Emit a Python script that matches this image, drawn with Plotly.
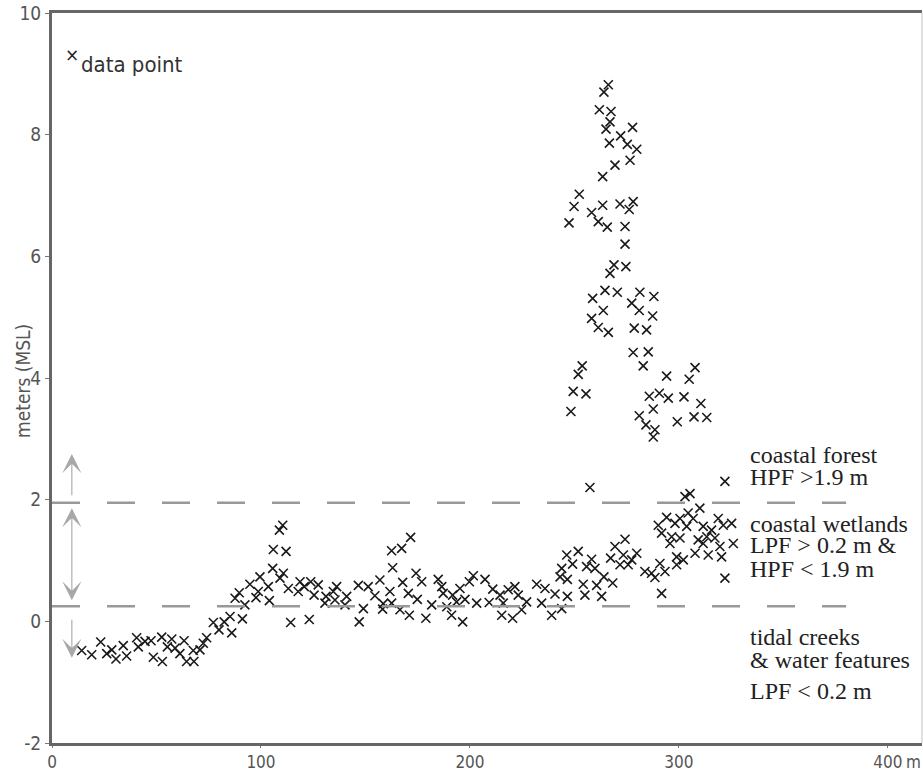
import plotly.graph_objects as go

# distance along transect (m) and elevation (m, MSL)
x_m = [14.2, 19.0, 23.3, 26.2, 28.6, 30.6, 34.1, 35.7, 40.5, 41.3, 44.5, 47.4, 48.5, 52.8, 52.5, 55.2,
       57.3, 58.9, 61.2, 63.2, 64.4, 67.9, 67.6, 70.8, 72.4, 74.0, 77.2, 79.9, 82.4, 85.2, 86.0, 87.6,
       89.6, 91.1, 92.3, 94.7, 97.6, 98.7, 99.5, 103.5, 104.0, 105.6, 105.9, 108.8, 110.4, 112.0, 110.7,
       109.1, 113.1, 114.2, 117.8, 118.7, 120.7, 123.1, 123.8, 127.4, 125.4, 130.6, 131.1, 134.6, 136.2,
       135.4, 141.0, 140.2, 146.6, 147.0, 149.0, 151.3, 154.5, 156.9, 158.5, 158.2, 161.7, 162.5, 163.0,
       162.5, 167.3, 166.5, 167.8, 170.5, 171.0, 171.6, 174.2, 174.8, 176.9, 178.9, 181.7, 184.8, 186.5,
       187.2, 188.9, 191.2, 191.7, 193.6, 195.2, 196.5, 197.6, 199.7, 201.6, 203.2, 207.2, 209.2, 210.9,
       214.4, 215.2, 215.9, 218.3, 220.4, 221.5, 223.1, 224.7, 227.1, 231.9, 234.3, 235.9, 239.1, 240.7,
       243.9, 243.1, 243.9, 246.3, 246.6, 246.6, 251.8, 249.1, 254.2, 255.0, 257.4, 255.8, 258.2, 259.8,
       260.6, 263.0, 264.1, 268.3, 267.3, 269.4, 271.8, 274.2, 273.4, 277.4, 279.8, 275.7, 283.7, 286.9,
       288.5, 291.7, 293.3, 290.9, 290.1, 294.1, 291.7, 296.5, 295.7, 298.1, 300.5, 300.5, 298.9, 298.9,
       302.1, 304.4, 303.7, 302.9, 305.3, 306.8, 310.0, 309.2, 307.7, 311.6, 313.3, 314.0, 317.2, 318.8,
       319.6, 320.4, 321.2, 322.0, 325.2, 326.0, 322.0, 315.6, 311.6,
       266.2, 264.1, 261.9, 267.5, 267.0, 265.1, 277.8, 272.1, 275.3, 279.8, 266.7, 276.6, 269.4, 263.5,
       252.3, 249.8, 247.4, 258.2, 263.5, 261.4, 265.7, 271.8, 278.1, 276.2, 274.2, 274.2, 268.9, 274.6,
       267.0, 264.6, 270.5, 258.7, 281.3, 288.0, 277.4, 263.8, 281.0, 258.2, 287.4, 261.4, 266.2, 278.6,
       284.5, 278.1, 285.3, 282.9, 253.7, 251.8, 249.4, 255.5, 248.3, 294.1, 307.7, 304.9, 285.8, 290.6,
       294.9, 302.4, 310.5, 287.7, 281.0, 284.2, 288.5, 287.7, 299.2, 307.2, 313.3]
elev_m = [-0.48, -0.55, -0.34, -0.53, -0.47, -0.62, -0.40, -0.57, -0.27, -0.42, -0.33, -0.32, -0.59, -0.66,
          -0.26, -0.42, -0.29, -0.44, -0.53, -0.32, -0.66, -0.66, -0.48, -0.47, -0.36, -0.27, -0.02, -0.14,
          -0.01, 0.08, -0.19, 0.38, 0.47, 0.04, 0.27, 0.61, 0.39, 0.49, 0.73, 0.57, 0.34, 0.87, 1.18, 1.50,
          1.58, 1.15, 0.79, 0.71, 0.54, -0.02, 0.49, 0.65, 0.57, 0.03, 0.65, 0.60, 0.43, 0.30, 0.41, 0.49,
          0.57, 0.35, 0.41, 0.27, 0.59, -0.01, 0.21, 0.57, 0.42, 0.68, 0.29, 0.20, 0.49, 1.16, 0.88, 0.30,
          1.20, 0.19, 0.64, 0.46, 0.10, 1.38, 0.79, 0.36, 0.65, 0.05, 0.27, 0.69, 0.57, 0.46, 0.24, 0.10,
          0.43, 0.32, 0.54, -0.01, 0.36, 0.65, 0.75, 0.30, 0.69, 0.31, 0.53, 0.43, 0.10, 0.30, 0.52, 0.05,
          0.57, 0.43, 0.19, 0.32, 0.61, 0.30, 0.54, 0.10, 0.45, 0.21, 0.73, 0.87, 1.09, 0.69, 0.41, 1.15,
          0.94, 0.61, 0.43, 2.20, 0.90, 1.02, 0.87, 0.59, 0.41, 0.73, 0.63, 1.04, 1.23, 0.93, 1.35, 1.09,
          1.01, 1.12, 0.93, 0.82, 0.79, 0.72, 0.46, 0.82, 0.95, 1.58, 1.71, 1.45, 1.39, 1.28, 1.61, 1.69,
          1.37, 1.06, 0.93, 1.01, 1.78, 1.56, 2.05, 2.10, 1.69, 1.86, 1.34, 1.12, 1.28, 1.39, 1.09, 1.37,
          1.69, 1.23, 1.06, 1.58, 2.30, 1.61, 1.28, 0.71, 1.50, 1.56,
          8.82, 8.70, 8.41, 8.38, 8.21, 8.09, 8.12, 7.98, 7.84, 7.76, 7.86, 7.58, 7.50, 7.31, 7.02, 6.82,
          6.55, 6.72, 6.84, 6.57, 6.48, 6.86, 6.90, 6.77, 6.49, 6.20, 5.86, 5.83, 5.72, 5.44, 5.41, 5.31,
          5.41, 5.34, 5.23, 5.11, 5.11, 4.98, 5.02, 4.83, 4.75, 4.82, 4.79, 4.42, 4.43, 4.20, 4.20, 4.06,
          3.78, 3.74, 3.45, 4.03, 4.17, 3.98, 3.70, 3.75, 3.67, 3.69, 3.58, 3.49, 3.38, 3.23, 3.15, 3.03,
          3.28, 3.36, 3.35]

x_ticks = [0, 100, 200, 300, 400]
x_ticktext = ["0", "100", "200", "300", "400"]
y_ticks = [-2, 0, 2, 4, 6, 8, 10]
y_ticktext = ["-2", "0", "2", "4", "6", "8", "10"]

thresholds = [1.95, 0.25]      # HPF 1.9 m / LPF 0.2 m lines as drawn
threshold_end = 380

class_labels = [
    ("coastal forest", 2.73), ("HPF >1.9 m", 2.37),
    ("coastal wetlands", 1.60), ("LPF > 0.2 m &", 1.25), ("HPF < 1.9 m", 0.86),
    ("tidal creeks", -0.26), ("& water features", -0.64), ("LPF < 0.2 m", -1.15),
]
label_x = 333

SANS = "DejaVu Sans Condensed, Liberation Sans Narrow, Roboto, sans-serif"
SERIF = "Liberation Serif, Times New Roman, serif"

fig = go.Figure()
fig.add_trace(go.Scatter(
    x=x_m, y=elev_m, mode="markers", name="data point", showlegend=False,
    marker=dict(symbol="x-thin", size=9, color="#1a1a1a",
                line=dict(width=1.6, color="#1a1a1a")),
    hoverinfo="x+y",
))

shapes = []
for t in thresholds:
    shapes.append(dict(type="line", xref="x", yref="y", x0=0, x1=threshold_end, y0=t, y1=t,
                       line=dict(color="#999999", width=2.5, dash="28px,27px")))
# right frame edge (thin)
shapes.append(dict(type="line", xref="paper", yref="paper", x0=1, x1=1, y0=0, y1=1,
                   line=dict(color="#c0c0c0", width=1)))

annotations = []
for txt, yy in class_labels:
    annotations.append(dict(x=label_x, y=yy, xref="x", yref="y", text=txt, showarrow=False,
                            xanchor="left", yanchor="middle",
                            font=dict(family=SERIF, size=24, color="#222222")))

# arrows on the left
arrow_x = 9.5
arrow_kw = dict(xref="x", yref="y", axref="x", ayref="y", text="", showarrow=True,
                arrowhead=3, arrowsize=2.9, arrowwidth=1.1, arrowcolor="#a8a8a8")
annotations.append(dict(x=arrow_x, y=2.75, ax=arrow_x, ay=2.05, **arrow_kw))
annotations.append(dict(x=arrow_x, y=1.86, ax=arrow_x, ay=0.32, arrowside="end+start",
                        startarrowhead=3, startarrowsize=2.9, **arrow_kw))
annotations.append(dict(x=arrow_x, y=-0.60, ax=arrow_x, ay=0.05, **arrow_kw))

# legend-like key
annotations.append(dict(x=0.023, y=0.942, xref="paper", yref="paper", text="×", showarrow=False,
                        xanchor="center", yanchor="middle",
                        font=dict(family="DejaVu Sans", size=17, color="#222222")))
annotations.append(dict(x=0.031, y=0.929, xref="paper", yref="paper", text="data point",
                        showarrow=False, xanchor="left", yanchor="middle",
                        font=dict(family=SANS, size=22, color="#333333")))
# axis title
annotations.append(dict(x=-0.0333, y=0.496, xref="paper", yref="paper", text="meters (MSL)",
                        showarrow=False, textangle=-90, xanchor="center", yanchor="middle",
                        font=dict(family=SANS, size=19, color="#555555")))
# unit after 400
annotations.append(dict(x=400, y=0, xref="x", yref="paper", text="m", showarrow=False,
                        xanchor="left", yanchor="top", xshift=16, yshift=-7,
                        font=dict(family=SANS, size=17, color="#555555")))

fig.update_layout(
    width=923, height=770,
    margin=dict(l=52, r=1, t=13, b=27, autoexpand=False),
    paper_bgcolor="white", plot_bgcolor="white",
    showlegend=False,
    shapes=shapes, annotations=annotations,
    xaxis=dict(range=[0, 416.3], tickvals=x_ticks, ticktext=x_ticktext, automargin=False,
               ticklabeloverflow="allow",
               showgrid=False, zeroline=False, showline=True, linecolor="#666666", linewidth=3,
               mirror=True, ticks="outside", ticklen=2, tickcolor="#777777",
               tickfont=dict(family=SANS, size=17, color="#555555")),
    yaxis=dict(range=[-2, 10], tickvals=y_ticks, ticktext=y_ticktext, automargin=False,
               ticklabeloverflow="allow",
               showgrid=False, zeroline=False, showline=True, linecolor="#666666", linewidth=3,
               ticks="outside", ticklen=4, tickcolor="#777777",
               tickfont=dict(family=SANS, size=19, color="#555555")),
)

# remove the default page margin so the 923x770 figure fills the window exactly
fig.write_html("out.html", config={"displayModeBar": False},
               post_script="document.body.style.margin='0';document.body.style.overflow='hidden';")
